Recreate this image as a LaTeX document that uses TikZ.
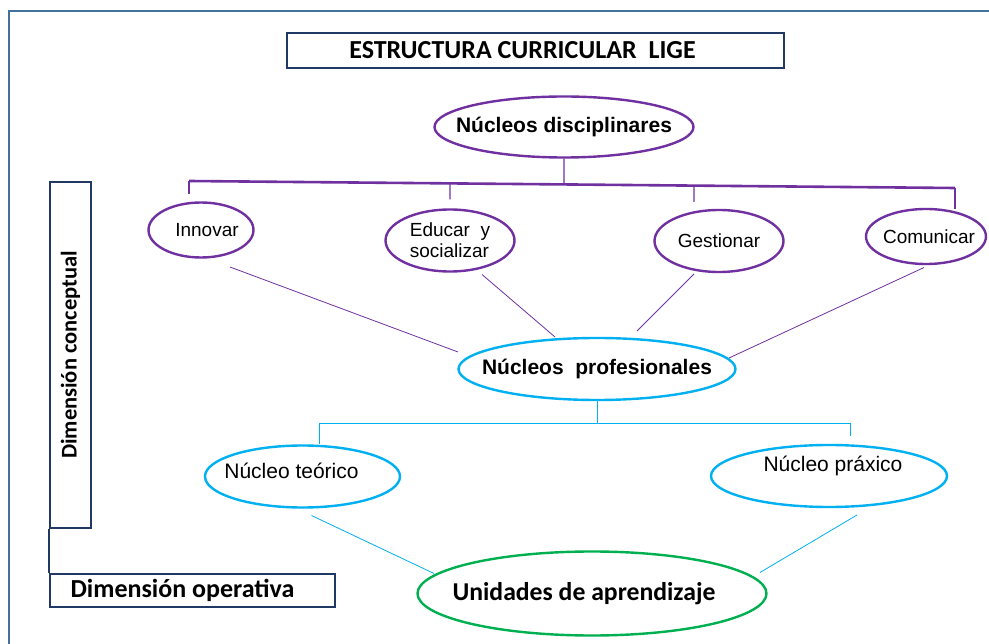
\documentclass[tikz,border=0pt]{standalone}
\usepackage{fontspec}
\setmainfont{Liberation Sans}
\newfontfamily\calibri{Carlito}
\usetikzlibrary{positioning, shapes.geometric, calc}
\definecolor{morado}{HTML}{7030A0}
\definecolor{celeste}{HTML}{00B0F0}
\definecolor{verde}{HTML}{00B050}
\definecolor{marco}{HTML}{41719C}
\definecolor{azul}{HTML}{1F3864}
\newcommand{\letra}[1]{\fontsize{#1}{#1}\selectfont}
\newcommand{\cero}[1]{\makebox[0pt]{#1}}

\begin{document}
\begin{tikzpicture}[
      x = 1pt,
      y = -1pt,
      every node/.style = {inner sep = 0pt},
      caja/.style = {rectangle, draw = azul, line width = 2.4pt, font = \calibri\bfseries\letra{26}},
      elipmorada/.style = {ellipse, draw = morado, line width = 2.4pt, font = \letra{19}, align = left},
      elipceleste/.style = {ellipse, draw = celeste, line width = 2.4pt, font = \letra{21}},
      elipverde/.style = {ellipse, draw = verde, line width = 2.4pt, font = \calibri\bfseries\letra{25.7}},
      barra/.style = {draw = morado, line width = 2.6pt},
      rama/.style = {draw = morado, line width = 1.3pt},
      enlace/.style = {draw = morado, line width = 0.8pt},
      enlaceceleste/.style = {draw = celeste, line width = 0.8pt}]

      \useasboundingbox (0,0) rectangle (989,644);
      \draw[marco, line width = 2.4pt] (989,11) -- (9,11) -- (9,644);

      \node[caja, minimum width = 497pt, minimum height = 35pt] (titulo) at (535.5,50.5)
        {ESTRUCTURA CURRICULAR\ \ LIGE\hspace{26pt}\null};

      \node[elipmorada, font = \bfseries\letra{21}, minimum width = 259pt, minimum height = 61pt]
        (disciplinares) at (564,127) {\cero{Núcleos disciplinares}};
      \node[elipmorada, minimum width = 105pt, minimum height = 55pt] (innovar) at (201,230)
        {\cero{\hspace{12pt}Innovar}};
      \node[elipmorada, minimum width = 129pt, minimum height = 62pt] (educar) at (450,240.5)
        {Educar\ \ y\\[2pt]socializar};
      \node[elipmorada, minimum width = 129pt, minimum height = 62pt] (gestionar) at (719,241)
        {\cero{Gestionar}};
      \node[elipmorada, minimum width = 120pt, minimum height = 55pt] (comunicar) at (926,236.5)
        {\cero{\hspace{6pt}Comunicar}};

      \node[elipceleste, font = \bfseries\letra{21}, minimum width = 277pt, minimum height = 62pt]
        (profesionales) at (597,369) {\cero{Núcleos\ \ profesionales}};
      \node[elipceleste, minimum width = 195pt, minimum height = 62pt, text height = 15.5pt,
        text depth = 12pt] (teorico) at (302.5,476.5) {\cero{Núcleo teórico\hspace{22pt}}};
      \node[elipceleste, minimum width = 236pt, minimum height = 62pt, text height = 15.5pt,
        text depth = 24.5pt] (praxico) at (829,476) {\cero{\hspace{8pt}Núcleo práxico}};

      \node[elipverde, minimum width = 349pt, minimum height = 84pt] (unidades) at (592,593.5)
        {\cero{Unidades de aprendizaje\hspace{16pt}}};

      \node[caja, rotate = 90, font = \calibri\bfseries\letra{22.5}, minimum width = 346pt,
        minimum height = 41pt] (conceptual) at (70.5,355) {Dimensión conceptual};
      \node[caja, minimum width = 285pt, minimum height = 33pt] (operativa) at (192.5,590.5)
        {Dimensión operativa\hspace{20pt}\null};
      \draw[draw = azul, line width = 2.4pt] (conceptual.north west) -- (operativa.north west);

      \coordinate (barra izq) at (189,181);
      \coordinate (barra der) at (955,188);
      \draw[barra] (barra izq) -- (barra der);
      \draw[rama] (disciplinares.south) -- ($(barra izq)!0.4896!(barra der)$);
      \draw[rama] (barra izq) -- ($(innovar.north)+(-12,-7)$);
      \draw[rama] ($(barra izq)!0.3407!(barra der)$) -- ($(educar.north)+(0,-9)$);
      \draw[rama] ($(barra izq)!0.6593!(barra der)$) -- ($(gestionar.north)+(-25,-7)$);
      \draw[rama] (barra der) -- ($(comunicar.north)+(29,1)$);

      \draw[enlace] ($(innovar)+(29,37)$) -- ($(profesionales)+(-139,-17)$);
      \draw[enlace] ($(educar)+(32,34)$) -- ($(profesionales)+(-42,-32)$);
      \draw[enlace] ($(gestionar)+(-25,33)$) -- ($(profesionales)+(40,-38)$);
      \draw[enlace] ($(comunicar)+(-2,31)$) -- ($(profesionales)+(132,-11)$);

      \coordinate (rama izq) at (319,423);
      \coordinate (rama der) at (850,423);
      \draw[enlaceceleste] (rama izq) -- (rama der);
      \draw[enlaceceleste] (profesionales.south) -- (profesionales.south |- rama izq);
      \draw[enlaceceleste] (rama izq) -- (teorico.north -| rama izq);
      \draw[enlaceceleste] (rama der) -- ($(praxico.north)+(21,-8)$);

      \draw[enlaceceleste] ($(teorico)+(9,39)$) -- ($(unidades)+(-158,-20)$);
      \draw[enlaceceleste] ($(praxico)+(28,39)$) -- ($(unidades)+(168,-21)$);
  \end{tikzpicture}
\end{document}
